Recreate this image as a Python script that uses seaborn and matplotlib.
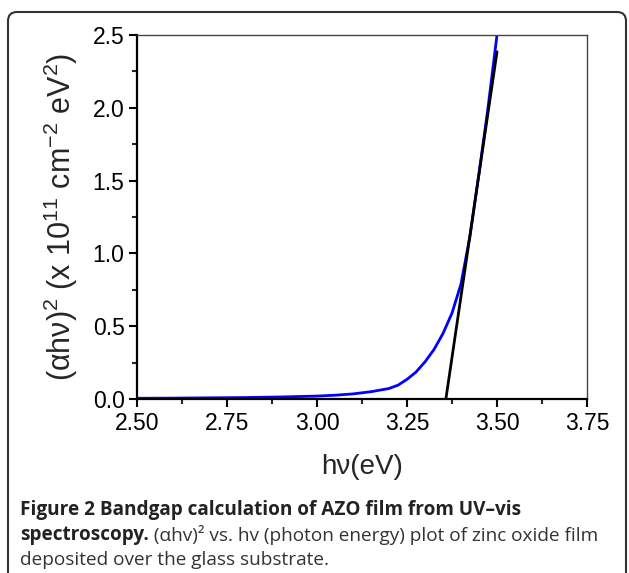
import matplotlib
matplotlib.use("Agg")
import matplotlib.pyplot as plt
import matplotlib.patches as mpatches
import matplotlib.transforms as mtransforms
from matplotlib.ticker import MultipleLocator, FormatStrFormatter
import seaborn as sns
import pandas as pd

# ---- data ----
energy_eV = [2.50, 2.60, 2.70, 2.80, 2.90, 3.00, 3.05, 3.10, 3.15, 3.20,
             3.225, 3.25, 3.275, 3.30, 3.325, 3.35, 3.375, 3.40, 3.425,
             3.45, 3.475, 3.50]
alpha_hv_sq = [0.005, 0.006, 0.008, 0.010, 0.014, 0.020, 0.026, 0.035, 0.050,
               0.072, 0.095, 0.135, 0.185, 0.255, 0.340, 0.450, 0.590, 0.790,
               1.120, 1.550, 2.000, 2.500]
fit_x = [3.358, 3.50]
fit_y = [0.0, 2.385]

x_ticks = [2.50, 2.75, 3.00, 3.25, 3.50, 3.75]
y_ticks = [0.0, 0.5, 1.0, 1.5, 2.0, 2.5]

df_curve = pd.DataFrame({"x": energy_eV, "y": alpha_hv_sq})
df_fit = pd.DataFrame({"x": fit_x, "y": fit_y})

sns.set_style("ticks")
plt.rcParams["font.family"] = ["Liberation Sans", "DejaVu Sans"]
plt.rcParams["mathtext.fontset"] = "custom"
plt.rcParams["mathtext.rm"] = "Liberation Sans"
plt.rcParams["mathtext.it"] = "Liberation Sans:italic"
plt.rcParams["mathtext.bf"] = "Liberation Sans:bold"

DPI = 100
fig = plt.figure(figsize=(6.29, 5.73), dpi=DPI)
ax = fig.add_axes([137 / 629, 1 - 399 / 573, 450 / 629, 364 / 573])

sns.lineplot(data=df_curve, x="x", y="y", ax=ax, color="#0000ff", lw=2.0,
             estimator=None, sort=False)
sns.lineplot(data=df_fit, x="x", y="y", ax=ax, color="black", lw=2.0,
             estimator=None, sort=False)

ax.set_xlim(2.5, 3.75)
ax.set_ylim(0, 2.5)
ax.set_xticks(x_ticks)
ax.set_yticks(y_ticks)
ax.xaxis.set_major_formatter(FormatStrFormatter("%.2f"))
ax.yaxis.set_major_formatter(FormatStrFormatter("%.1f"))
ax.xaxis.set_minor_locator(MultipleLocator(0.125))
ax.yaxis.set_minor_locator(MultipleLocator(0.25))
ax.tick_params(axis="both", which="major", direction="out", length=6, width=1.5,
               labelsize=16.5, colors="black", pad=3)
ax.tick_params(axis="both", which="minor", direction="out", length=3.5, width=1.5)
ax.tick_params(top=False, right=False, which="both")

for s in ["left", "bottom"]:
    ax.spines[s].set_linewidth(1.6)
    ax.spines[s].set_color("black")
for s in ["top", "right"]:
    ax.spines[s].set_linewidth(1.0)
    ax.spines[s].set_color("#444444")
    ax.spines[s].set_visible(True)

ax.set_xlabel("h\u03bd(eV)", fontsize=20, labelpad=14)
ax.set_ylabel("(\u03b1h\u03bd)$^2$ (x 10$^{11}$ cm$^{-2}$ eV$^2$)", fontsize=22,
              labelpad=9)

# rounded frame around the figure panel
frame = mpatches.FancyBboxPatch((8, -40), 618, 601,
                                boxstyle="round,pad=0,rounding_size=9",
                                transform=mtransforms.IdentityTransform(),
                                fill=False, edgecolor="#333333", lw=1.5,
                                clip_on=False)
fig.patches.append(frame)

cap_font = ["Open Sans", "DejaVu Sans"]
cap_size = 13.7
fig.text(20 / 629, 1 - 515 / 573,
         "Figure 2 Bandgap calculation of AZO film from UV\u2013vis",
         fontsize=cap_size, fontweight="bold", family=cap_font, color="#222222")
t1 = fig.text(20 / 629, 1 - 540 / 573, "spectroscopy.",
              fontsize=cap_size, fontweight="bold", family=cap_font, color="#222222")
ax.annotate(" (\u03b1hv)\u00b2 vs. hv (photon energy) plot of zinc oxide film",
            xy=(1, 0), xycoords=t1, va="bottom", ha="left",
            fontsize=cap_size, family=cap_font, color="#333333",
            annotation_clip=False)
fig.text(20 / 629, 1 - 565 / 573, "deposited over the glass substrate.",
         fontsize=cap_size, family=cap_font, color="#333333")

fig.savefig("out.png", dpi=DPI)
